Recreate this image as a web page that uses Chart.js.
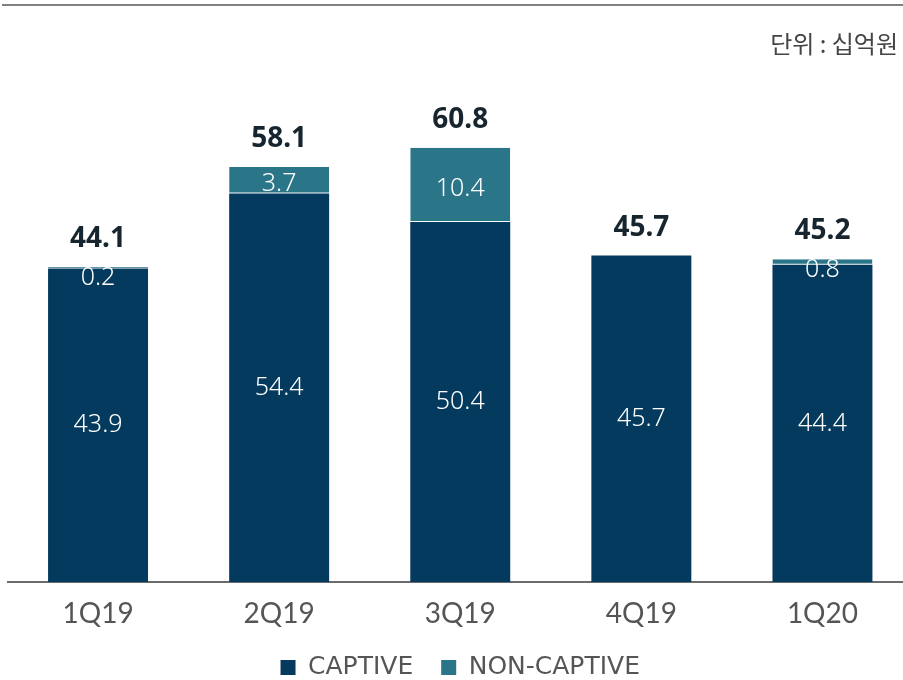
<!DOCTYPE html>
<html>
<head>
<meta charset="utf-8">
<script src="https://cdn.jsdelivr.net/npm/chart.js@4.4.1/dist/chart.umd.min.js"></script>
<style>
  html, body { margin: 0; padding: 0; background: #fff; overflow: hidden; }
  #wrap { position: relative; width: 903px; height: 680px; overflow: hidden; }
  #topline { position: absolute; left: 2px; top: 4px; width: 901px; height: 2px; background: #808080; }
  #unit { position: absolute; right: 5px; top: 25px; font: 24px "Noto Sans CJK KR", sans-serif; color: #444; }
  #box { position: absolute; left: 0; top: 0; width: 913px; height: 690px; }
</style>
</head>
<body>
<div id="wrap">
  <div id="box"><canvas id="c"></canvas></div>
  <div id="topline"></div>
  <div id="unit">단위 : 십억원</div>
</div>
<script>
const quarters = ["1Q19", "2Q19", "3Q19", "4Q19", "1Q20"];
const captive = [43.9, 54.4, 50.4, 45.7, 44.4];
const nonCaptive = [0.2, 3.7, 10.4, 0, 0.8];
const totals = [44.1, 58.1, 60.8, 45.7, 45.2];

const NAVY = "#033a5d";
const TEAL = "#2b7589";

// value labels inside the bars + totals on top
const labelPlugin = {
  id: "barLabels",
  afterDatasetsDraw(chart) {
    const ctx = chart.ctx;
    const m0 = chart.getDatasetMeta(0);
    const m1 = chart.getDatasetMeta(1);
    ctx.save();
    ctx.textAlign = "center";
    ctx.textBaseline = "middle";
    m0.data.forEach((bar, i) => {
      ctx.fillStyle = "#fff";
      ctx.font = '300 25px "Noto Sans", sans-serif';
      ctx.fillText(captive[i].toFixed(1), bar.x, (bar.y + bar.base) / 2);
      const nb = m1.data[i];
      if (nonCaptive[i] > 0) {
        const mid = (nb.y + nb.base) / 2;
        ctx.fillText(nonCaptive[i].toFixed(1), nb.x, Math.max(mid + 4, nb.y + 11));
      }
      ctx.fillStyle = "#17252e";
      ctx.font = 'bold 28px "Noto Sans", sans-serif';
      const top = Math.min(bar.y, nb.y);
      ctx.fillText(totals[i].toFixed(1), bar.x, top - 28);
    });
    ctx.restore();
  }
};

new Chart(document.getElementById("c"), {
  type: "bar",
  data: {
    labels: quarters,
    datasets: [
      { label: "CAPTIVE", data: captive, backgroundColor: NAVY, borderWidth: 0 },
      { label: "NON-CAPTIVE", data: nonCaptive, backgroundColor: TEAL,
        borderColor: "#ffffff", borderWidth: { bottom: 1, top: 0, left: 0, right: 0 }, borderSkipped: false }
    ]
  },
  options: {
    responsive: true,
    maintainAspectRatio: false,
    animation: false,
    barPercentage: 0.552,
    categoryPercentage: 1,
    layout: { padding: { top: 10.6, left: 7.5, right: 0, bottom: 0 } },
    scales: {
      x: {
        stacked: true,
        grid: { display: false, drawTicks: false },
        border: { display: true, color: "#6b6b6b", width: 2 },
        ticks: { color: "#555", font: { family: "Lato, 'Noto Sans', sans-serif", size: 28 }, padding: 15 },
        afterFit(scale) { scale.height = 45; }
      },
      y: {
        stacked: true,
        display: false,
        min: 0,
        max: 80
      }
    },
    plugins: {
      tooltip: { enabled: false },
      legend: {
        position: "bottom",
        labels: {
          color: "#555",
          font: { family: "'DejaVu Sans', sans-serif", size: 25 },
          boxWidth: 15,
          boxHeight: 15,
          padding: 28,
          generateLabels(chart) {
            return Chart.defaults.plugins.legend.labels.generateLabels(chart).map(l => {
              l.lineWidth = 0;
              l.strokeStyle = "rgba(0,0,0,0)";
              return l;
            });
          }
        }
      }
    }
  },
  plugins: [labelPlugin]
});
</script>
</body>
</html>
